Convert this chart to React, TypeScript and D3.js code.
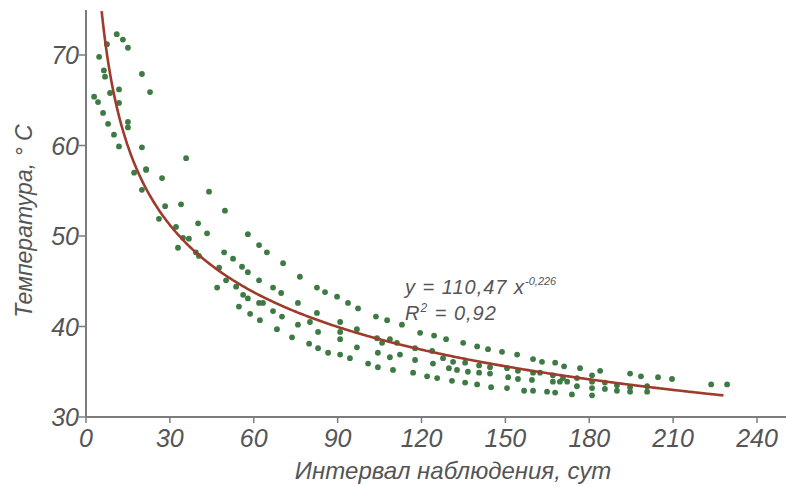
import React from 'react';
import * as d3 from 'd3';

// observation interval, days
const days = [
  11, 13.2, 15, 7.5, 4.7, 6.4, 6.8, 20, 11.8, 8.6, 22.9, 2.9, 4.3, 11.8, 6.1, 15, 15, 7.9, 10, 11.8,
  20, 35.8, 21.5, 17.2, 27.2, 21.5, 20, 44, 28.3, 34, 49.7, 26.1, 40.1, 43.3, 32.2, 34.7, 36.8, 57.9, 61.9, 32.9,
  39.3, 40.4, 49.4, 52.6, 55.8, 57.9, 47.6, 50.1, 46.9, 53.7, 61.9, 56.2, 57.9, 54.7, 61.9, 58.7, 62.2, 64.7, 70.5, 76.5,
  66.9, 69.8, 82.6, 85.5, 89.8, 93.7, 97.3, 63.3, 66.9, 75.8, 82.6, 70.1, 75.8, 80.1, 90.9, 96.9, 103.7, 107.7, 113, 68.3,
  73.7, 83, 90.9, 90.9, 96.9, 104.1, 105.9, 108.7, 111.2, 119.5, 79.8, 83, 86.6, 90.9, 94.4, 104.4, 108.7, 112.3, 117.7, 100.9,
  104.4, 109.8, 117.7, 117, 122, 124.5, 128.8, 134.9, 139.9, 143.8, 148.8, 154.2, 159.9, 163.1, 167.8, 171, 176.7, 123.8, 124.1, 127.7,
  131.3, 129.8, 132.7, 135.6, 136.6, 140.6, 140.6, 144.5, 144.5, 150.6, 151, 154.5, 154.5, 159.9, 159.5, 162.4, 167, 167, 169.5, 170.6,
  172.1, 175.6, 175.6, 181, 181, 181, 181, 125.6, 130.9, 135.6, 139.9, 144.9, 150.6, 156.7, 159.9, 164.9, 167.8, 173.8, 183.9, 194.6,
  198.5, 204.6, 209.6, 223.6, 229.3, 185.6, 185.6, 189.9, 189.9, 194.6, 194.6, 200.7, 200.7
];

// temperature, °C
const temps = [
  72.3, 71.7, 70.8, 71.2, 69.8, 68.3, 67.6, 67.9, 66.2, 65.8, 65.9, 65.4, 64.8, 64.7, 63.6, 62.6, 62, 62.4, 61.2, 59.9,
  59.8, 58.6, 57.4, 57, 56.4, 57.3, 55.1, 54.9, 53.3, 53.5, 52.8, 51.9, 51.4, 50.3, 51, 49.8, 49.7, 50.2, 49, 48.7,
  48.2, 47.8, 48.2, 47.5, 46.6, 46, 46.5, 45.1, 44.3, 44.4, 45.1, 43.5, 43.1, 42.2, 42.6, 41.4, 40.7, 48.2, 47, 45.5,
  44.3, 43.7, 44.3, 43.8, 43.3, 42.6, 42, 42.6, 41.7, 42.6, 41.5, 41.1, 40.2, 40.5, 40.5, 39.7, 41.1, 40.7, 40.2, 39.7,
  38.8, 39.4, 39.4, 38.6, 37.7, 38.7, 38.2, 38.6, 38.2, 39.3, 38.1, 37.6, 37.1, 36.9, 36.5, 37.1, 36.6, 36.9, 37.6, 35.9,
  35.5, 35.2, 36.3, 34.9, 34.5, 39, 38.6, 38.2, 37.8, 37.5, 37.2, 36.9, 36.4, 36.1, 36, 35.6, 35.4, 37.3, 35.9, 36.5,
  36.1, 35.4, 35.2, 36, 35, 35.7, 34.9, 35.5, 34.8, 35.4, 34.4, 35.1, 34.2, 34.9, 34.1, 34.9, 34.6, 33.9, 33.9, 34.3,
  33.9, 34.3, 33.4, 34.6, 33.9, 33.2, 32.4, 34.3, 34, 33.8, 33.6, 33.3, 33.2, 32.9, 32.9, 32.8, 32.7, 32.5, 35.1, 34.8,
  34.5, 34.4, 34.2, 33.6, 33.6, 33.8, 33.1, 33.5, 32.9, 33.3, 32.8, 33.4, 32.8
];

const xTicks = [0, 30, 60, 90, 120, 150, 180, 210, 240];
const yTicks = [30, 40, 50, 60, 70];

// trend y = a * x^b, from the label on the chart
const trendA = 110.47;
const trendB = -0.226;
const trendRange = [5.6, 228];

const font = '"Liberation Sans", Arial, sans-serif';
const textColor = '#555';
const axisColor = '#7c7c7c';

export default function App() {
  const x = d3.scaleLinear().domain([0, 240]).range([86, 757]);
  const y = d3.scaleLinear().domain([30, 70]).range([417, 55]);

  const trendXs = d3.range(trendRange[0], trendRange[1], 0.5).concat([trendRange[1]]);
  const trend = d3
    .line<number>()
    .x(d => x(d))
    .y(d => y(trendA * Math.pow(d, trendB)))
    .curve(d3.curveBasis)(trendXs);

  const points = days.map((d, i) => ({ d, t: temps[i] }));

  return (
    <svg
      width={786}
      height={487}
      style={{ position: 'absolute', left: 0, top: 0, background: '#fff', fontFamily: font }}
    >
      {/* axes */}
      <line x1={x(0)} x2={x(0)} y1={10} y2={y(30)} stroke={axisColor} strokeWidth={2} />
      <line x1={x(0)} x2={786} y1={y(30)} y2={y(30)} stroke={axisColor} strokeWidth={2} />

      {xTicks.map(t => (
        <g key={'x' + t}>
          <line x1={x(t)} x2={x(t)} y1={y(30)} y2={y(30) + 6} stroke={axisColor} strokeWidth={1.5} />
          <text
            x={x(t)}
            y={447}
            textAnchor="middle"
            fontSize={25}
            fontStyle="italic"
            fill={textColor}
          >
            {t}
          </text>
        </g>
      ))}

      {yTicks.map(t => (
        <g key={'y' + t}>
          <line x1={x(0) - 7} x2={x(0)} y1={y(t)} y2={y(t)} stroke={axisColor} strokeWidth={1.5} />
          <text
            x={79}
            y={y(t) + 9}
            textAnchor="end"
            fontSize={25}
            fontStyle="italic"
            fill={textColor}
          >
            {t}
          </text>
        </g>
      ))}

      {/* points */}
      {points.map((p, i) => (
        <circle key={i} cx={x(p.d)} cy={y(p.t)} r={2.9} fill="#3e7a44" />
      ))}

      {/* trend line */}
      <path d={trend || ''} fill="none" stroke="#9e3b2b" strokeWidth={2.6} />

      {/* equation */}
      <text x={405} y={294} fontSize={20} fontStyle="italic" fill={textColor} letterSpacing={1}>
        y = 110,47 x
        <tspan fontSize={11} dy={-9} letterSpacing={0}>-0,226</tspan>
      </text>
      <text x={405} y={320} fontSize={20} fontStyle="italic" fill={textColor} letterSpacing={1}>
        R<tspan fontSize={12} dy={-8}>2</tspan>
        <tspan dy={8}> = 0,92</tspan>
      </text>

      {/* axis titles */}
      <text
        x={453}
        y={479}
        textAnchor="middle"
        fontSize={24}
        fontStyle="italic"
        fill={textColor}
      >
        Интервал наблюдения, сут
      </text>
      <text
        transform="translate(32,221) rotate(-90)"
        textAnchor="middle"
        fontSize={23}
        fontStyle="italic"
        fill={textColor}
      >
        Температура, ° C
      </text>
    </svg>
  );
}
